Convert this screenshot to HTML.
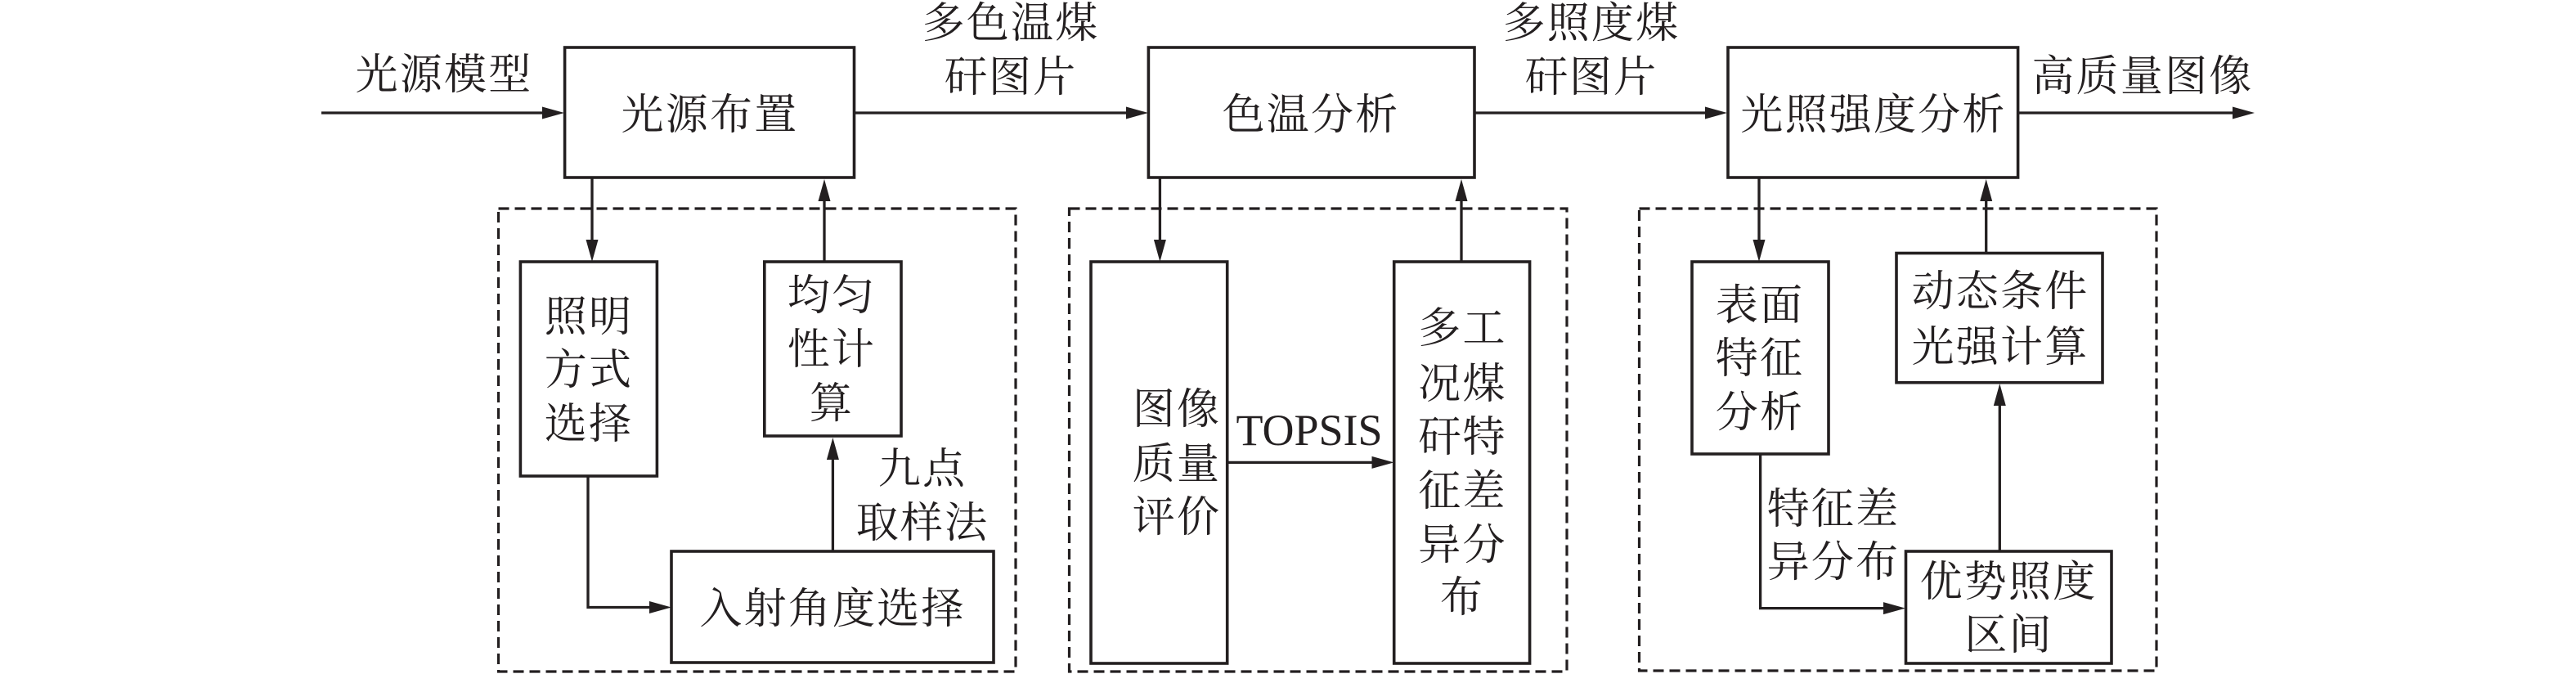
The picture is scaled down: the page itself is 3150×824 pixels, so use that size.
<!DOCTYPE html>
<html><head><meta charset="utf-8"><style>
html,body{margin:0;padding:0;background:#fff;width:3150px;height:824px;overflow:hidden}
svg{display:block}
text{font-family:"Liberation Serif","Noto Serif CJK SC",serif;font-size:52px;fill:#231f20;text-anchor:middle;letter-spacing:2.2px;font-weight:400}
.b{fill:#fff;stroke:#231f20;stroke-width:3.6}
.d{fill:none;stroke:#231f20;stroke-width:3.2;stroke-dasharray:13 7}
.l{fill:none;stroke:#231f20;stroke-width:3.3}
.h{fill:#231f20}
</style></head><body>
<svg width="3150" height="824" viewBox="0 0 3150 824" xmlns="http://www.w3.org/2000/svg">
<rect class="d" x="609.5" y="255" width="632.5" height="566"/>
<rect class="d" x="1307.5" y="255" width="608.5" height="566"/>
<rect class="d" x="2004.5" y="255" width="632.5" height="565"/>

<path class="l" d="M393 138H665M1044.5 138H1380M1803 138H2088M2467.6 138H2735"/>
<polygon class="h" points="690,138 663,130.5 663,145.5"/>
<polygon class="h" points="1404,138 1377,130.5 1377,145.5"/>
<polygon class="h" points="2112,138 2085,130.5 2085,145.5"/>
<polygon class="h" points="2757,138 2730,130.5 2730,145.5"/>

<path class="l" d="M724 217V295M1008 320V245M1018.4 674V560M719 582V742.5H795"/>
<polygon class="h" points="724,320 716.5,293 731.5,293"/>
<polygon class="h" points="1008,219 1000.5,246 1015.5,246"/>
<polygon class="h" points="1018.4,535 1010.9,562 1025.9,562"/>
<polygon class="h" points="821,742.5 794,735 794,750"/>

<path class="l" d="M1418.4 217V295M1787 320V245M1500.7 565.4H1680"/>
<polygon class="h" points="1418.4,320 1410.9,293 1425.9,293"/>
<polygon class="h" points="1787,219 1779.5,246 1794.5,246"/>
<polygon class="h" points="1704.5,565.4 1677.5,557.9 1677.5,572.9"/>

<path class="l" d="M2151 217V295M2428.7 310V245M2445.3 674V495M2152.6 555V743.6H2305"/>
<polygon class="h" points="2151,320 2143.5,293 2158.5,293"/>
<polygon class="h" points="2428.7,219 2421.2,246 2436.2,246"/>
<polygon class="h" points="2445.3,469 2437.8,496 2452.8,496"/>
<polygon class="h" points="2330,743.6 2303,736.1 2303,751.1"/>

<rect class="b" x="690.6" y="58" width="353.9" height="159"/>
<rect class="b" x="1404.4" y="58" width="398.6" height="159"/>
<rect class="b" x="2113" y="58" width="354.6" height="159"/>
<rect class="b" x="636.4" y="320" width="167" height="262"/>
<rect class="b" x="934.8" y="320" width="167.2" height="213"/>
<rect class="b" x="821" y="674" width="394" height="136"/>
<rect class="b" x="1334" y="320" width="166.7" height="491"/>
<rect class="b" x="1704.7" y="320" width="165.9" height="491"/>
<rect class="b" x="2069" y="320" width="167" height="235"/>
<rect class="b" x="2319" y="309.5" width="252" height="158.2"/>
<rect class="b" x="2330.5" y="674" width="251.5" height="137"/>

<text x="543" y="109">光源模型</text>
<text x="868" y="158">光源布置</text>
<text x="1236" y="46">多色温煤</text>
<text x="1236" y="112">矸图片</text>
<text x="1603" y="158">色温分析</text>
<text x="1946" y="46">多照度煤</text>
<text x="1946" y="112">矸图片</text>
<text x="2291" y="158">光照强度分析</text>
<text x="2620" y="111">高质量图像</text>

<text x="720" y="405">照明</text>
<text x="720" y="470">方式</text>
<text x="720" y="536">选择</text>
<text x="1017" y="379">均匀</text>
<text x="1017" y="445">性计</text>
<text x="1017" y="511">算</text>
<text x="1128" y="591">九点</text>
<text x="1128" y="657">取样法</text>
<text x="1018" y="762">入射角度选择</text>

<text x="1439" y="518">图像</text>
<text x="1439" y="585">质量</text>
<text x="1439" y="650">评价</text>
<text x="1601" y="544" style="font-size:54px;letter-spacing:0">TOPSIS</text>
<text x="1788.5" y="419">多工</text>
<text x="1788.5" y="487">况煤</text>
<text x="1788.5" y="552">矸特</text>
<text x="1788.5" y="618">征差</text>
<text x="1788.5" y="684">异分</text>
<text x="1788" y="748">布</text>

<text x="2152" y="391">表面</text>
<text x="2152" y="456">特征</text>
<text x="2152" y="522">分析</text>
<text x="2446" y="374">动态条件</text>
<text x="2446" y="442">光强计算</text>
<text x="2242" y="640">特征差</text>
<text x="2242" y="705">异分布</text>
<text x="2456" y="729">优势照度</text>
<text x="2456.5" y="794">区间</text>
</svg>
</body></html>
